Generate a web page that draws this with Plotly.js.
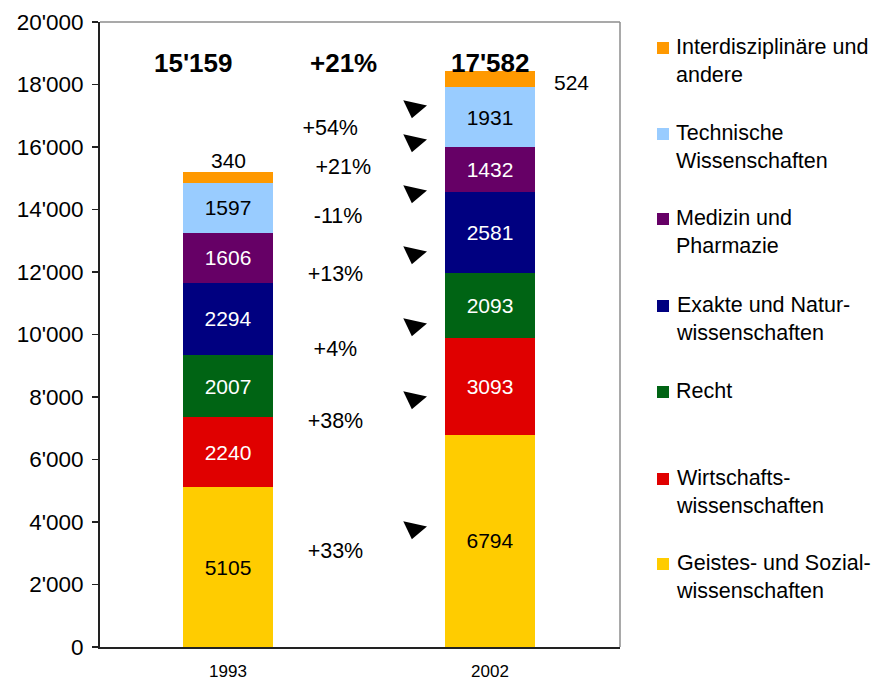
<!DOCTYPE html>
<html><head><meta charset="utf-8">
<script src="https://cdn.plot.ly/plotly-3.0.1.min.js"></script>
<style>body{margin:0;background:#fff}#chart{width:894px;height:680px}</style>
</head><body><div id="chart"></div>
<script>
const years = ['1993', '2002'];
const categories = ['Geistes- und Sozialwissenschaften', 'Wirtschaftswissenschaften', 'Recht', 'Exakte und Naturwissenschaften', 'Medizin und Pharmazie', 'Technische Wissenschaften', 'Interdisziplinäre und andere'];
const legendLabels = ['Geistes- und Sozial-<br>wissenschaften', 'Wirtschafts-<br>wissenschaften', 'Recht', 'Exakte und Natur-<br>wissenschaften', 'Medizin und<br>Pharmazie', 'Technische<br>Wissenschaften', 'Interdisziplinäre und<br>andere'];
const values1993 = [5105, 2240, 2007, 2294, 1606, 1597, 340];
const values2002 = [6794, 3093, 2093, 2581, 1432, 1931, 524];
const totalLabels = ["15'159", "17'582"];
const totalChange = '+21%';
const changeLabels = ['+33%', '+38%', '+4%', '+13%', '-11%', '+21%', '+54%'];
const changeLabelY = [3008, 7168, 9472, 11872, 13728, 15296, 16544];
const arrowY = [3776, 7936, 10272, 12576, 14528, 16160, 17248];

const colors = ['#FFCC00', '#E00000', '#006414', '#000080', '#660066', '#99CCFF', '#FF9900'];
const textColors = ['#000', '#fff', '#fff', '#fff', '#fff', '#000', '#000'];
const legendPy = [564, 479, 392, 306, 219, 134, 48];
const changeLabelX = [0.41, 0.41, 0.41, 0.41, 0.42, 0.44, 0.39];

const FONT = 'Liberation Sans, Arial, sans-serif';
const L = 100, R = 620, T = 22, B = 647, W = 894, H = 680;
const px = x => (x - L) / (R - L);
const py = y => (B - y) / (B - T);

const traces = categories.map((c, i) => {
  const isLast = i === categories.length - 1;
  return {
    type: 'bar', name: c, x: [0, 1], y: [values1993[i], values2002[i]],
    width: 0.343,
    marker: {color: colors[i], line: {width: 0}},
    text: isLast ? ['', ''] : [String(values1993[i]), String(values2002[i])],
    textposition: isLast ? 'none' : 'inside',
    insidetextanchor: 'middle', textangle: 0, constraintext: 'none',
    insidetextfont: {family: FONT, size: 21, color: textColors[i]},
    hoverinfo: 'skip', showlegend: false
  };
});

traces.push({
  type: 'scatter', mode: 'text', x: changeLabelX, y: changeLabelY,
  text: changeLabels, textposition: 'middle center',
  textfont: {family: FONT, size: 21.5, color: '#000'},
  hoverinfo: 'skip', showlegend: false
});
traces.push({
  type: 'scatter', mode: 'markers', x: arrowY.map(() => 0.71), y: arrowY,
  marker: {symbol: 'triangle-down', size: 21, color: '#000', angle: 12, line: {width: 0}},
  hoverinfo: 'skip', showlegend: false
});

const annotations = [
  {x: -0.134, y: 18688, xref: 'x', yref: 'y', text: '<b>' + totalLabels[0] + '</b>', showarrow: false, font: {family: FONT, size: 26, color: '#000'}},
  {x: 0.439, y: 18688, xref: 'x', yref: 'y', text: '<b>' + totalChange + '</b>', showarrow: false, font: {family: FONT, size: 26, color: '#000'}},
  {x: 1.0, y: 18688, xref: 'x', yref: 'y', text: '<b>' + totalLabels[1] + '</b>', showarrow: false, font: {family: FONT, size: 26, color: '#000'}},
  {x: 0.0, y: 15584, xref: 'x', yref: 'y', text: String(values1993[6]), showarrow: false, font: {family: FONT, size: 21, color: '#000'}},
  {x: 1.309, y: 18080, xref: 'x', yref: 'y', text: String(values2002[6]), showarrow: false, font: {family: FONT, size: 21, color: '#000'}}
];
const shapes = [
  {type: 'line', xref: 'paper', yref: 'paper', x0: 0, x1: 1, y0: 1, y1: 1, line: {color: '#8c8c8c', width: 1.5}},
  {type: 'line', xref: 'paper', yref: 'paper', x0: 1, x1: 1, y0: 0, y1: 1, line: {color: '#8c8c8c', width: 1.5}}
];
legendLabels.forEach((lab, i) => {
  const cy = legendPy[i];
  shapes.push({type: 'rect', xref: 'paper', yref: 'paper', x0: px(657), x1: px(669), y0: py(cy + 6), y1: py(cy - 6), fillcolor: colors[i], line: {width: 0}});
  annotations.push({xref: 'paper', yref: 'paper', x: px(674), y: py(cy - 15), xanchor: 'left', yanchor: 'top', align: 'left',
    text: lab, showarrow: false, font: {family: FONT, size: 21.5, color: '#000'}});
});

const layout = {
  width: W, height: H,
  margin: {l: L, r: W - R, t: T, b: H - B, pad: 0},
  paper_bgcolor: '#fff', plot_bgcolor: '#fff',
  barmode: 'stack', separators: ".'",
  showlegend: false,
  xaxis: {range: [-0.4885, 1.496], tickvals: [0, 1], ticktext: years, showgrid: false, zeroline: false,
    showline: true, linecolor: '#222', linewidth: 2, ticks: '', ticklabelstandoff: 8,
    tickfont: {family: FONT, size: 17, color: '#000'}, fixedrange: true},
  yaxis: {range: [0, 20000], dtick: 2000, tickformat: ',d', showgrid: false, zeroline: false,
    showline: true, linecolor: '#222', linewidth: 2, ticks: 'outside', ticklen: 6, tickcolor: '#222', tickwidth: 1.5,
    ticklabelstandoff: 4,
    tickfont: {family: FONT, size: 22.5, color: '#000'}, fixedrange: true},
  annotations: annotations, shapes: shapes
};
Plotly.newPlot('chart', traces, layout, {displayModeBar: false, staticPlot: true});
</script>
</body></html>
